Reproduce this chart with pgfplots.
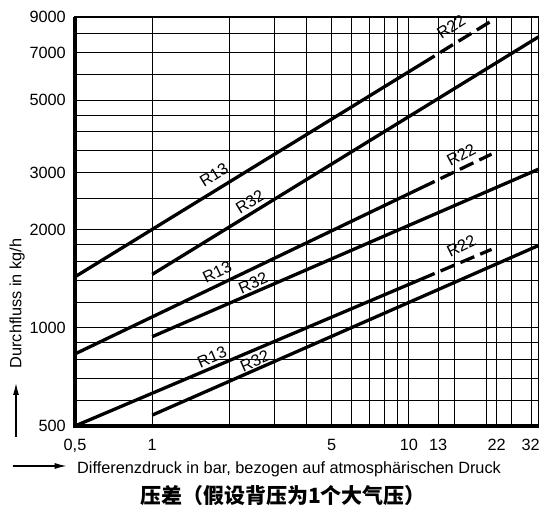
\documentclass[border=0pt]{standalone}
\usepackage{fontspec}
\setmainfont{Liberation Sans}
\newfontfamily\cjk{Noto Sans CJK SC}
\usepackage{pgfplots}
\pgfplotsset{compat=1.18}
\usetikzlibrary{arrows.meta}

\newcommand\lblfont{\fontsize{16.3}{19}\selectfont}

\begin{document}
\begin{tikzpicture}
\begin{axis}[
    scale only axis,
    width=463.5pt, height=409pt,
    xmode=log, ymode=log,
    xmin=0.5, xmax=32, ymin=500, ymax=9000,
    xtick={0.5,1,5,10,13,22},
    xticklabels={{0,5},1,5,10,13,22},
    extra x ticks={32},
    extra x tick labels={32},
    extra x tick style={xticklabel style={anchor=base east, xshift=1.5pt}},
    minor xtick={2,3,4,6,7,8,9,15,20,25,30},
    ytick={500,1000,2000,3000,5000,7000,9000},
    yticklabels={500,1000,2000,3000,5000,7000,9000},
    minor ytick={600,700,800,900,1200,1400,1600,1800,2500,3500,4000,4500,6000,8000},
    grid=both,
    major grid style={black, line width=0.9pt},
    minor grid style={black, line width=0.9pt},
    major tick length=0pt, minor tick length=0pt,
    axis line style={black, line width=1.4pt},
    tick label style={font=\lblfont, inner sep=0pt},
    xticklabel style={anchor=base, yshift=-25pt},
    yticklabel style={anchor=east, xshift=-9pt},
    clip=false,
    curve/.style={black, line width=3.3pt, no markers},
    r22/.style={curve, dash pattern=on 15pt off 6.5pt, dash phase=15pt},
]
% R13 (solid) with R22 (dashed) extension
\addplot[curve] coordinates {(0.5,1435) (12.6,6837)};
\addplot[r22] coordinates {(12.6,6837) (21,8755)};
\addplot[curve] coordinates {(0.5,832) (12.6,2816)};
\addplot[r22] coordinates {(12.6,2816) (21,3415)};
\addplot[curve] coordinates {(0.5,500) (12.6,1469)};
\addplot[r22] coordinates {(12.6,1469) (21,1742)};
% R32
\addplot[curve] coordinates {(1,1460) (32,7820)};
\addplot[curve] coordinates {(1,940) (32,3070)};
\addplot[curve] coordinates {(1,540) (32,1790)};

% line labels
\node[font=\lblfont, rotate=31.6] at (axis cs:1.74,2944) {R13};
\node[font=\lblfont, rotate=31.6] at (axis cs:2.40,2432) {R32};
\node[font=\lblfont, rotate=25.6] at (axis cs:1.79,1484) {R13};
\node[font=\lblfont, rotate=23.5] at (axis cs:2.47,1373) {R32};
\node[font=\lblfont, rotate=23] at (axis cs:1.71,814) {R13};
\node[font=\lblfont, rotate=23.7] at (axis cs:2.51,791) {R32};
\node[font=\lblfont, rotate=33] at (axis cs:14.6,8400) {R22};
\node[font=\lblfont, rotate=28] at (axis cs:16.0,3400) {R22};
\node[font=\lblfont, rotate=26] at (axis cs:16.0,1785) {R22};

% heavy left and bottom frame
\draw[line width=4pt] (rel axis cs:0,1) -- (rel axis cs:0,0) -- (rel axis cs:1,0);

% axis captions
\node[font=\lblfont, anchor=base west, inner sep=0pt] at ([xshift=2pt, yshift=-47.3pt]rel axis cs:0,0)
  {Differenzdruck in bar, bezogen auf atmosphärischen Druck};
\draw[line width=1.3pt, -{Latex[length=12pt, width=6pt]}] ([xshift=-62.3pt, yshift=-40pt]rel axis cs:0,0) -- ([xshift=-8.3pt, yshift=-40pt]rel axis cs:0,0);
\node[font=\lblfont, anchor=base, rotate=90, inner sep=0pt] at ([xshift=-53.5pt, yshift=122.5pt]rel axis cs:0,0)
  {Durchfluss in kg/h};
\draw[line width=1.3pt, -{Latex[length=12pt, width=6pt]}] ([xshift=-59pt, yshift=-11pt]rel axis cs:0,0) -- ([xshift=-59pt, yshift=43pt]rel axis cs:0,0);
\node[font={\cjk\bfseries\fontsize{21}{24}\selectfont}, inner sep=0pt] at ([xshift=208pt, yshift=-70pt]rel axis cs:0,0)
  {压差（假设背压为1个大气压）};
\end{axis}
\pgfresetboundingbox
\useasboundingbox (-75pt,-86pt) rectangle (466pt,426pt);
\end{tikzpicture}
\end{document}
